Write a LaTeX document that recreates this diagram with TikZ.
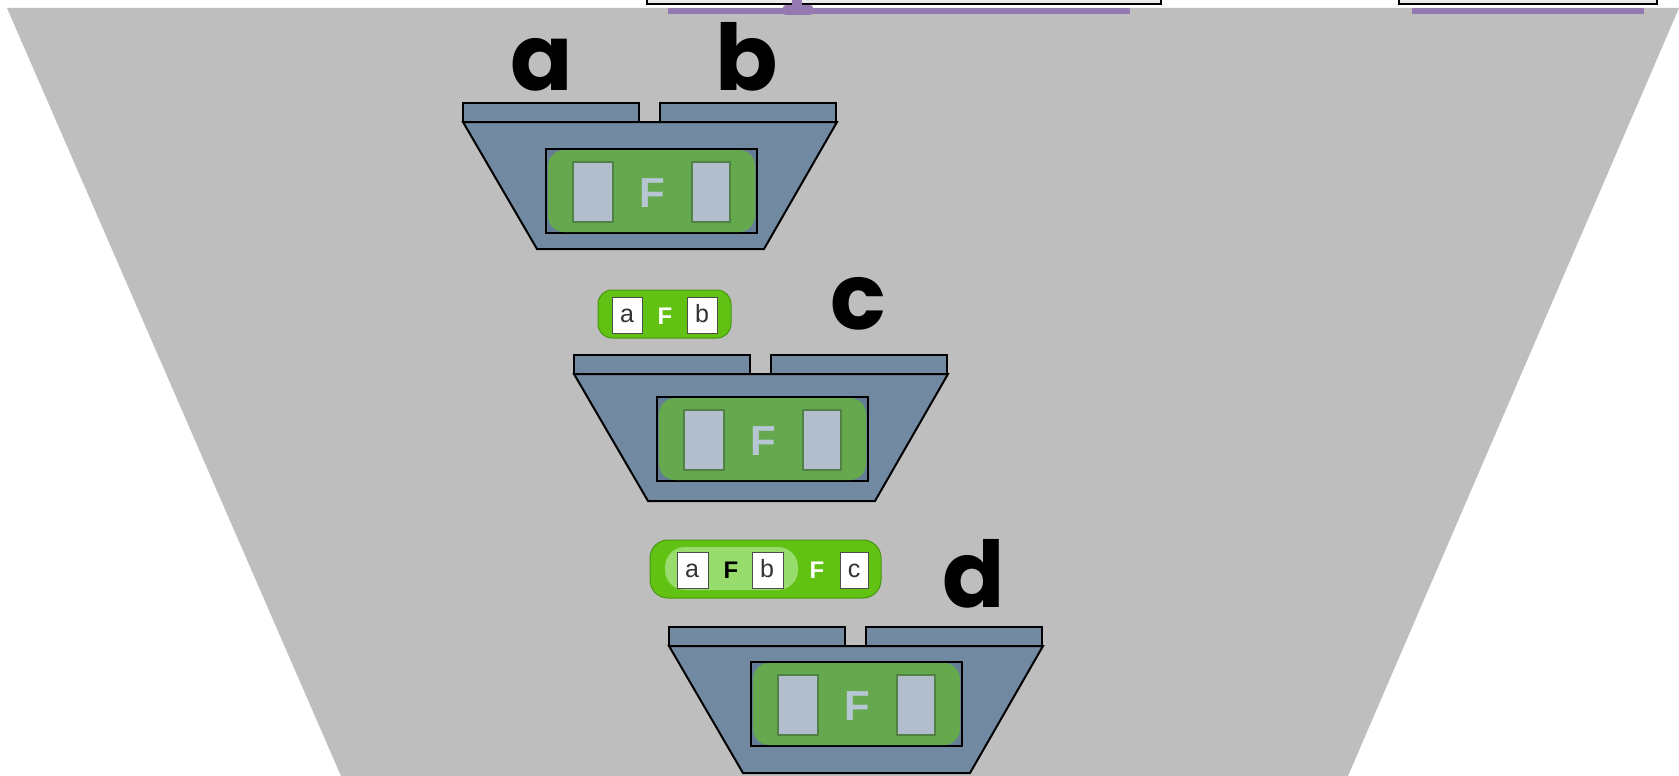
\documentclass[tikz,border=0pt]{standalone}
\usepackage{fontspec}
\newfontfamily\lblfont{Poppins}
\setsansfont{Liberation Sans}
\definecolor{bg}{RGB}{190,190,190}
\definecolor{hop}{RGB}{113,137,161}
\definecolor{hopdark}{RGB}{100,124,150}
\definecolor{purp}{RGB}{148,122,176}
\definecolor{fgreen}{RGB}{102,168,78}
\definecolor{fgreendark}{RGB}{80,130,70}
\definecolor{slotc}{RGB}{178,190,204}
\definecolor{Fc}{RGB}{182,198,210}
\definecolor{bgreen}{RGB}{98,194,20}
\definecolor{bgreendark}{RGB}{70,150,15}
\definecolor{lgreen}{RGB}{152,220,110}
\definecolor{topbox}{RGB}{236,236,236}
\tikzset{
  hopline/.style={draw=black,line width=2pt,fill=hop},
  innerbox/.style={draw=black,line width=2pt,fill=hopdark},
  fblock/.style={fill=fgreen,rounded corners=16pt},
  fslot/.style={fill=slotc,draw=fgreendark,line width=1.2pt},
  bigF/.style={font=\sffamily\bfseries\fontsize{42}{42}\selectfont,text=Fc,inner sep=0pt},
  lbl/.style={font=\lblfont\bfseries\fontsize{92}{92}\selectfont,anchor=base,inner sep=0pt},
  rep/.style={fill=bgreen,draw=bgreendark,line width=1pt,rounded corners=14pt},
  wslot/.style={fill=white,draw=black!70,line width=1pt},
  slottxt/.style={font=\sffamily\fontsize{25}{25}\selectfont,text=black!80,inner sep=0pt},
  repF/.style={font=\sffamily\bfseries\fontsize{24}{24}\selectfont,inner sep=0pt},
}
\newcommand\hopperbody{%
  \draw[hopline] (463,103) rectangle (639,122);
  \draw[hopline] (660,103) rectangle (836,122);
  \draw[hopline] (463,122) -- (837,122) -- (764,249) -- (537,249) -- cycle;
}
\newcommand\innerpart[1]{%
  \draw[innerbox] (0,0) rectangle (211,84);
  \fill[fblock] (2,1) rectangle (209,83);
  \draw[fslot] (27,13) rectangle (67,73);
  \draw[fslot] (146,13) rectangle (184,73);
  \node[bigF] (#1) at (106,44) {F};
}
\begin{document}
\begin{tikzpicture}[x=1pt,y=-1pt]
\useasboundingbox (0,0) rectangle (1679,776);
\fill[white] (0,0) rectangle (1679,776);
% big gray funnel
\fill[bg] (7,8) -- (1679,8) -- (1348,776) -- (341,776) -- cycle;
% top boxes and purple lines
\draw[fill=topbox,draw=black,line width=1.5pt] (647,-6) rectangle (1161,4);
\draw[fill=topbox,draw=black,line width=1.5pt] (1399,-6) rectangle (1657,4);
\fill[purp] (668,8) rectangle (1130,14);
\fill[purp] (1412,8) rectangle (1644,14);
\fill[purp] (792,-1) rectangle (802,8);
\fill[purp,rounded corners=3pt] (783,5) rectangle (813,15);
% hoppers
\hopperbody
\begin{scope}[shift={(111,252)}]\hopperbody\end{scope}
\begin{scope}[shift={(206,524)}]\hopperbody\end{scope}
\begin{scope}[shift={(546,149)}]\innerpart{F1}\end{scope}
\begin{scope}[shift={(657,397)}]\innerpart{F2}\end{scope}
\begin{scope}[shift={(751,662)}]\innerpart{F3}\end{scope}
% reporter a F b
\draw[rep] (598,290) rectangle (731,338);
\draw[wslot] (612,297) rectangle (642,333);
\draw[wslot] (687,297) rectangle (717,333);
\node[slottxt] (ra) at (627,316) {a};
\node[repF,text=white] (rF) at (665,316) {F};
\node[slottxt] (rb) at (702,314) {b};
% reporter (a F b) F c
\draw[rep,rounded corners=18pt] (650,540) rectangle (881,598);
\fill[lgreen,rounded corners=20pt] (665,547) rectangle (798,590);
\draw[wslot] (677,552) rectangle (708,588);
\draw[wslot] (752,552) rectangle (783,588);
\draw[wslot] (840,552) rectangle (868,588);
\node[slottxt] (sa) at (692,571) {a};
\node[repF,text=black] (sF1) at (731,570) {F};
\node[slottxt] (sb) at (767,569) {b};
\node[repF,text=white] (sF2) at (817,570) {F};
\node[slottxt] (sc) at (854,571) {c};
% labels
\node[lbl] (la) at (542,90) {a};
\node[lbl] (lb) at (747,90) {b};
\node[lbl] (lc) at (858,329) {c};
\node[lbl] (ld) at (974,607) {d};
\end{tikzpicture}
\end{document}
